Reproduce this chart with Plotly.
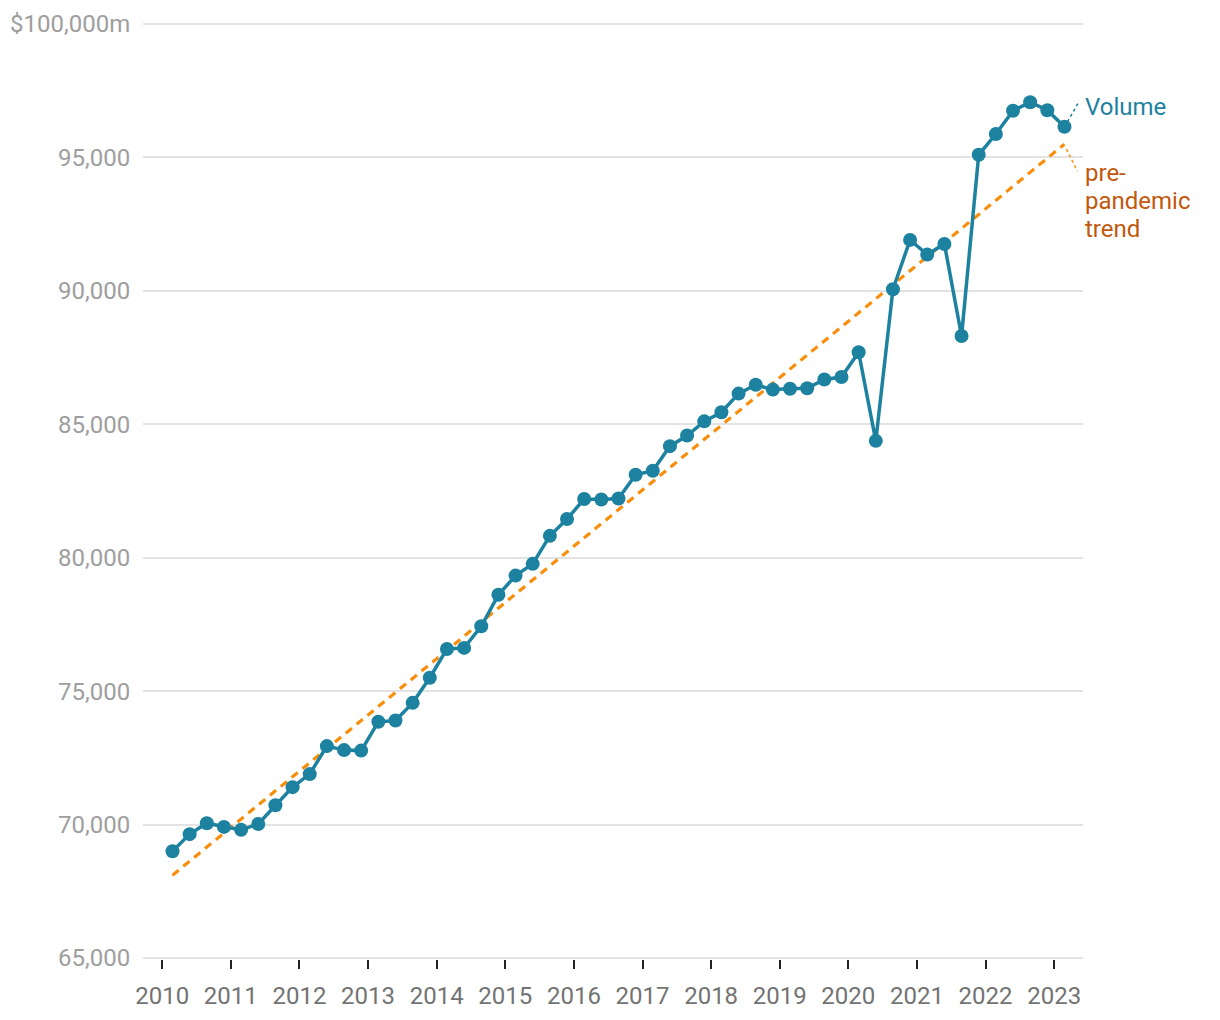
import plotly.graph_objects as go

# ---- data ----
years = list(range(2010, 2024))
quarters = [f"{y} Q{q}" for y in range(2010, 2024) for q in range(1, 5)][:53]
volume = [
    69000, 69640, 70050, 69910,
    69800, 70020, 70720, 71400,
    71890, 72940, 72790, 72770,
    73850, 73900, 74560, 75500,
    76580, 76620, 77430, 78610,
    79330, 79770, 80820, 81450,
    82200, 82180, 82220, 83110,
    83260, 84180, 84580, 85110,
    85450, 86150, 86480, 86300,
    86330, 86350, 86680, 86770,
    87700, 84380, 90060, 91910,
    91360, 91760, 88310, 95100,
    95880, 96750, 97070, 96770,
    96150,
]
trend_quarters = ["2010 Q1", "2023 Q1"]
trend_values = [68100, 95500]
y_ticks = [65000, 70000, 75000, 80000, 85000, 90000, 95000, 100000]
y_tick_labels = ["65,000", "70,000", "75,000", "80,000", "85,000", "90,000", "95,000", "$100,000m"]
trend_label_lines = ["pre-", "pandemic", "trend"]


def q_to_x(label):
    y, q = label.split(" Q")
    return int(y) + (int(q) - 0.4) / 4


x_vol = [q_to_x(q) for q in quarters]
x_trend = [q_to_x(q) for q in trend_quarters]

TEAL = "#1c82a0"
ORANGE = "#f98e0c"
ORANGE_TXT = "#c2580c"
FONT = "Roboto"

fig = go.Figure()
fig.add_trace(go.Scatter(
    x=x_trend, y=trend_values, mode="lines",
    line=dict(color=ORANGE, width=3.2, dash="8px,6px"),
    hoverinfo="skip", showlegend=False,
))
fig.add_trace(go.Scatter(
    x=x_vol, y=volume, mode="lines+markers",
    line=dict(color=TEAL, width=3.5),
    marker=dict(color=TEAL, size=14),
    showlegend=False,
))

# connectors to labels
fig.add_shape(type="line", xref="x", yref="y", xsizemode="pixel", ysizemode="pixel",
              xanchor=x_vol[-1], yanchor=volume[-1],
              x0=3, x1=15, y0=5, y1=26,
              line=dict(color=TEAL, width=1.5, dash="dot"))
fig.add_shape(type="line", xref="x", yref="y", xsizemode="pixel", ysizemode="pixel",
              xanchor=x_trend[-1], yanchor=trend_values[-1],
              x0=2, x1=13, y0=-5, y1=-27,
              line=dict(color=ORANGE, width=1.5, dash="dot"))

fig.add_annotation(x=x_vol[-1], y=volume[-1], xref="x", yref="y",
                   text="Volume", showarrow=False, xanchor="left", yanchor="middle",
                   xshift=19, yshift=20,
                   font=dict(family=FONT, size=24, color=TEAL))
for i, line in enumerate(trend_label_lines):
    fig.add_annotation(x=x_trend[-1], y=trend_values[-1], xref="x", yref="y",
                       text=line, showarrow=False,
                       xanchor="left", yanchor="middle", align="left",
                       xshift=19, yshift=-29 - 28 * i,
                       font=dict(family=FONT, size=24, color=ORANGE_TXT))

fig.update_layout(
    width=1204, height=1004,
    margin=dict(l=135, r=129, t=15, b=53),
    paper_bgcolor="white", plot_bgcolor="white",
    font=dict(family=FONT),
    xaxis=dict(
        range=[2009.72, 2023.42],
        tickvals=years, ticktext=[str(y) for y in years],
        ticks="outside", ticklen=9, tickwidth=2, tickcolor="#222",
        ticklabelstandoff=6, automargin=False,
        showgrid=False, zeroline=False, showline=False,
        tickfont=dict(family=FONT, size=24, color="#737373"),
    ),
    yaxis=dict(
        range=[64960, 100040],
        tickvals=y_ticks, ticktext=y_tick_labels,
        ticks="outside", ticklen=7, tickcolor="rgba(0,0,0,0)",
        automargin=False,
        showgrid=True, gridcolor="#e3e3e3", gridwidth=1.5,
        zeroline=False, showline=False,
        tickfont=dict(family=FONT, size=24, color="#9e9e9e"),
    ),
)

fig.write_html("out.html")
